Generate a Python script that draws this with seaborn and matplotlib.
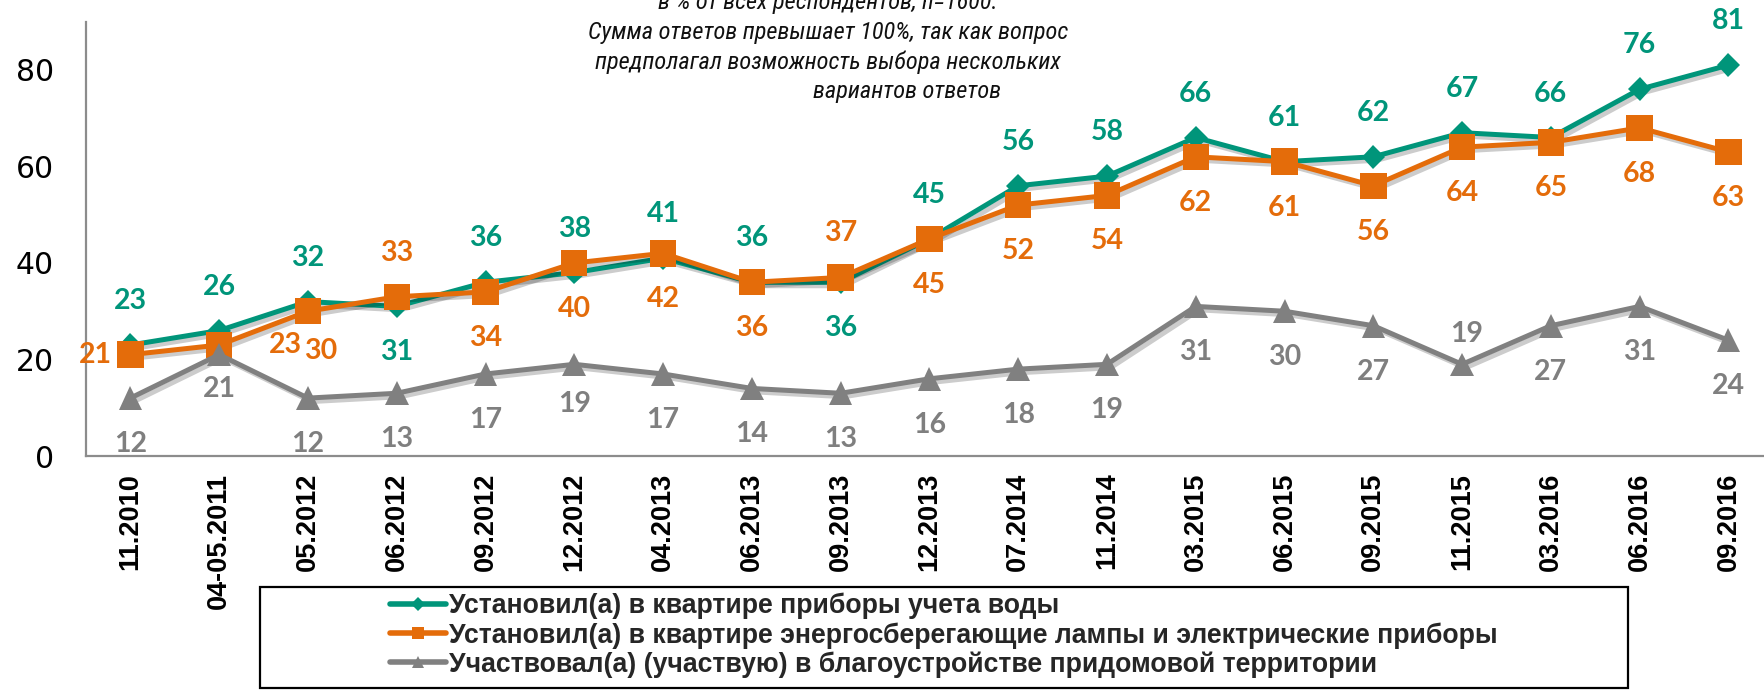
import numpy as np
import pandas as pd
import seaborn as sns
import matplotlib
matplotlib.use("Agg")
import matplotlib.pyplot as plt
from matplotlib import patheffects as pe
from matplotlib.patches import Rectangle
from matplotlib.lines import Line2D

# ---------------- data ----------------
categories = ['11.2010', '04-05.2011', '05.2012', '06.2012', '09.2012', '12.2012',
              '04.2013', '06.2013', '09.2013', '12.2013', '07.2014', '11.2014',
              '03.2015', '06.2015', '09.2015', '11.2015', '03.2016', '06.2016', '09.2016']
water = [23, 26, 32, 31, 36, 38, 41, 36, 36, 45, 56, 58, 66, 61, 62, 67, 66, 76, 81]
lamps = [21, 23, 30, 33, 34, 40, 42, 36, 37, 45, 52, 54, 62, 61, 56, 64, 65, 68, 63]
territory = [12, 21, 12, 13, 17, 19, 17, 14, 13, 16, 18, 19, 31, 30, 27, 19, 27, 31, 24]
series_names = ['Установил(а) в квартире приборы учета воды',
                'Установил(а) в квартире энергосберегающие лампы и электрические приборы',
                'Участвовал(а) (участвую) в благоустройстве придомовой территории']
note_lines = ['в % от всех респондентов, n=1600.',
              'Сумма ответов превышает 100%, так как вопрос',
              'предполагал возможность выбора нескольких',
              'вариантов ответов']
yticks = [0, 20, 40, 60, 80]

# label placement codes (layout only)
water_pos = ['a', 'a', 'a', 'b', 'a', 'a', 'a', 'a', 'b', 'a', 'a', 'a', 'a', 'a', 'a', 'a', 'a', 'a', 'a']
lamps_pos = ['l', 'r', 'br', 'a', 'b', 'b', 'b', 'b', 'a', 'b', 'b', 'b', 'b', 'b', 'b', 'b', 'b', 'b', 'b']
terr_pos = ['b', 'b2', 'b', 'b', 'b', 'b3', 'b', 'b', 'b', 'b', 'b', 'b', 'b', 'b', 'b', 'a2', 'b', 'b', 'b']
offsets = {'a': (0, 44), 'b': (0, -46), 'l': (-35, 0), 'r': (66, 0), 'br': (13, -40),
           'b2': (0, -34), 'b3': (0, -40), 'a2': (5, 30)}

GREEN = '#00957A'
ORANGE = '#E46C0A'
GRAY = '#808080'
AXIS = '#8C8C8C'
NARROW = ['Roboto Condensed', 'Fira Sans Condensed', 'DejaVu Sans']
ARIAL = ['Liberation Sans', 'DejaVu Sans']

sns.set_style('white')
plt.rcParams['font.family'] = ARIAL

W, H = 1764, 690
fig = plt.figure(figsize=(W / 100, H / 100), dpi=100)
ax_left = 86 / W
ax_bottom = 1 - 456 / H
ax_top = 1 - 21.7 / H
ax = fig.add_axes([ax_left, ax_bottom, 1 - ax_left, ax_top - ax_bottom])

n = len(categories)
x = np.arange(n)
df = pd.DataFrame({'x': x, 'water': water, 'lamps': lamps, 'territory': territory})

shadow = [pe.SimpleLineShadow(offset=(2.5, -2.5), shadow_color='black', alpha=0.2, rho=0.3), pe.Normal()]

sns.lineplot(data=df, x='x', y='water', ax=ax, color=GREEN, lw=3.6, marker='D', ms=12,
             markeredgewidth=0, sort=False, path_effects=shadow, zorder=3)
sns.lineplot(data=df, x='x', y='lamps', ax=ax, color=ORANGE, lw=3.6, marker='s', ms=19,
             markeredgewidth=0, sort=False, path_effects=shadow, zorder=4)
sns.lineplot(data=df, x='x', y='territory', ax=ax, color=GRAY, lw=3.6, marker='^', ms=17,
             markeredgewidth=0, sort=False, path_effects=shadow, zorder=5)

cat_w = 88.78
ax.set_xlim(-0.5, -0.5 + (W - 86) / cat_w)
ax.set_ylim(0, 90)

label_font = dict(family=['Lato', 'DejaVu Sans'], weight='bold', size=20.5)
for vals, pos, col in [(water, water_pos, GREEN), (lamps, lamps_pos, ORANGE), (territory, terr_pos, '#7F7F7F')]:
    for i, (v, p) in enumerate(zip(vals, pos)):
        ax.annotate(str(v), (x[i], v), xytext=offsets[p], textcoords='offset pixels',
                    ha='center', va='center', color=col, zorder=6, **label_font)

# axes styling
for s in ['top', 'right']:
    ax.spines[s].set_visible(False)
for s in ['left', 'bottom']:
    ax.spines[s].set_color(AXIS)
    ax.spines[s].set_linewidth(1.6)

ax.set_xticks(x)
ax.set_xticklabels(categories, rotation=90, fontsize=19.5, fontweight='bold', fontfamily=ARIAL)
ax.set_xticks(np.arange(-0.5, n - 0.5, 1), minor=True)
ax.tick_params(axis='x', which='major', length=0, pad=12, colors='black')
ax.tick_params(axis='x', which='minor', length=6, width=1.4, color=AXIS, direction='out')
ax.set_yticks(yticks)
ax.set_yticklabels([str(t) for t in yticks], fontsize=21.5, fontfamily=['DejaVu Sans'])
ax.tick_params(axis='y', length=9, width=1.4, color=AXIS, direction='out', pad=14, labelcolor='black')
ax.set_xlabel('')
ax.set_ylabel('')
ax.grid(False)
ax.patch.set_alpha(0)

# note text
note_font = dict(family=NARROW, style='italic', size=17.6, color='#111111')
note_pos = [(828, 9.5), (828, 39), (828, 69), (907, 98)]
for txt, (px, py) in zip(note_lines, note_pos):
    fig.text(px / W, 1 - py / H, txt, ha='center', va='baseline', **note_font)

# legend
handles = [Line2D([], [], color=GREEN, lw=4, marker='D', ms=7, markeredgewidth=0),
           Line2D([], [], color=ORANGE, lw=4, marker='s', ms=9, markeredgewidth=0),
           Line2D([], [], color=GRAY, lw=4, marker='^', ms=9, markeredgewidth=0)]
LF = 19.2
leg = fig.legend(handles, series_names, loc='upper left',
                 bbox_to_anchor=(390 / W, 1 - 593 / H), bbox_transform=fig.transFigure,
                 frameon=False, borderpad=0, borderaxespad=0,
                 handlelength=40 / LF, handletextpad=0.14, labelspacing=0.1,
                 prop=dict(family=ARIAL, weight='bold', size=LF))
rect = Rectangle((260 / W, 1 - 688 / H), (1628 - 260) / W, (688 - 587) / H,
                 transform=fig.transFigure, fill=False, edgecolor='black', lw=1.6, clip_on=False)
fig.add_artist(rect)

fig.savefig('out.png', dpi=100)
